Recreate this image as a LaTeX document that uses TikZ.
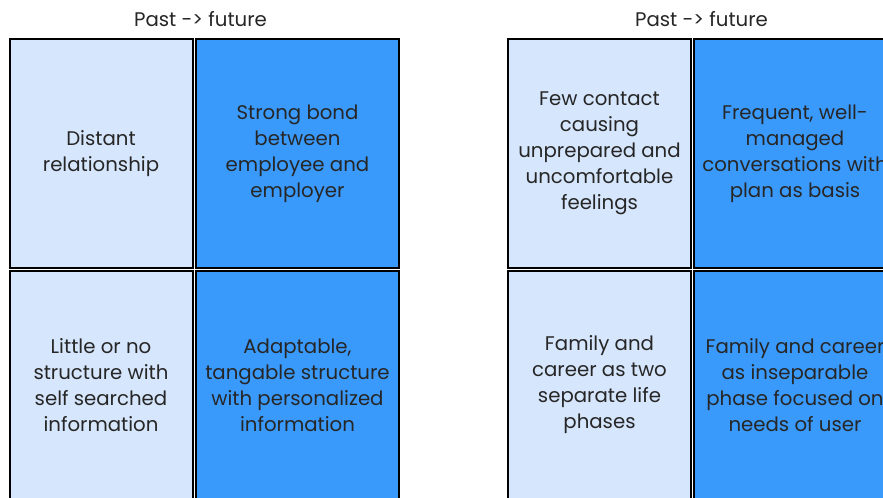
\documentclass[tikz,border=0pt]{standalone}
\usepackage{fontspec}
\setmainfont{Poppins}
\usepackage{tikz}

\definecolor{paleblue}{HTML}{D6E6FC}
\definecolor{strongblue}{HTML}{3A9AFB}
\definecolor{inkgrey}{HTML}{262626}

\begin{document}
\begin{tikzpicture}[x=0.75pt,y=0.75pt,yscale=-1,xscale=1,
  cell/.style={draw=black, line width=1.5, inner sep=0, outer sep=0, align=center,
    text=inkgrey, font=\fontsize{14.8}{19.5}\selectfont},
  past/.style={cell, fill=paleblue, minimum width=137.25pt},
  future/.style={cell, fill=strongblue, minimum width=152.25pt},
  toprow/.style={minimum height=171.75pt},
  lowrow/.style={minimum height=171pt},
  heading/.style={text=inkgrey, font=\fontsize{14.8}{18}\selectfont, inner sep=0}]
\useasboundingbox (0,0) rectangle (883,498);
\clip (0,0) rectangle (883,498);

%Text: headings
\node[heading] (headL) at (200.5,19) {Past -> future};
\node[heading] (headR) at (701.5,19) {Past -> future};

%Shape: Rectangle, left grid
\node[past, toprow] (l11) at (101,153.5) {Distant\\relationship};
\node[future, toprow] (l12) at (297.5,153.5) {Strong bond\\between\\employee and\\employer};
\node[past, lowrow] (l21) at (101,385) {Little or no\\structure with\\self searched\\information};
\node[future, lowrow] (l22) at (297.5,385) {Adaptable,\\tangable structure\\with personalized\\information};

%Shape: Rectangle, right grid
\node[past, toprow] (r11) at (599.5,153.5) {Few contact\\causing\\unprepared and\\uncomfortable\\feelings};
\node[future, toprow] (r12) at (795,153.5) {Frequent, well-\\managed\\conversations with\\plan as basis};
\node[past, lowrow] (r21) at (599.5,385) {Family and\\career as two\\separate life\\phases};
\node[future, lowrow] (r22) at (795,385) {Family and career\\as inseparable\\phase focused on\\needs of user};
\end{tikzpicture}
\end{document}
